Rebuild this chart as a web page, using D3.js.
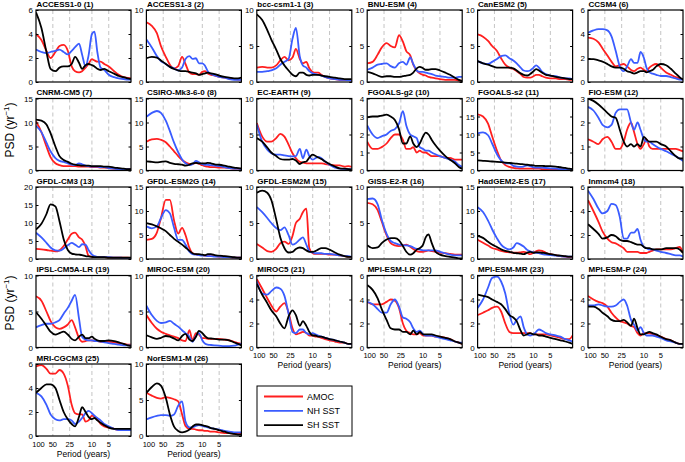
<!DOCTYPE html>
<html><head><meta charset="utf-8">
<script src="https://cdn.jsdelivr.net/npm/d3@7"></script>
<style>body{margin:0;background:#fff}svg{display:block}</style>
</head><body><svg id="c" width="685" height="462"></svg>
<script>
const periods = [100,80,65,55,45,38,32,27,23,20,17,15,13,11.5,10,9,8,7,6,5,4,3.3,2.7,2.3,2];
const gridPeriods = [50,25,10,5];
const xTickVals = [100,50,25,10,5];
const models = ["ACCESS1-0 (1)","ACCESS1-3 (2)","bcc-csm1-1 (3)","BNU-ESM (4)","CanESM2 (5)","CCSM4 (6)",
"CNRM-CM5 (7)","CSIRO-Mk3-6-0 (8)","EC-EARTH (9)","FGOALS-g2 (10)","FGOALS-s2 (11)","FIO-ESM (12)",
"GFDL-CM3 (13)","GFDL-ESM2G (14)","GFDL-ESM2M (15)","GISS-E2-R (16)","HadGEM2-ES (17)","Inmcm4 (18)",
"IPSL-CM5A-LR (19)","MIROC-ESM (20)","MIROC5 (21)","MPI-ESM-LR (22)","MPI-ESM-MR (23)","MPI-ESM-P (24)",
"MRI-CGCM3 (25)","NorESM1-M (26)"];
const yMax  = [6,10,10,10,10,6, 15,15,10,4,20,3, 20,15,10,10,15,6, 10,10,6,6,6,6, 6,10];
const yStep = [2,5,5,5,5,2, 5,5,5,1,5,1, 5,5,5,5,5,2, 5,5,2,2,2,2, 2,5];
const seriesNames = ["AMOC","NH SST","SH SST"];

const amoc = [
[4.0,3.5,2.6,2.0,2.5,3.0,3.1,2.6,1.3,0.9,0.8,0.9,1.2,1.5,1.9,1.8,1.7,1.7,1.5,1.3,0.9,0.6,0.4,0.35,0.3],
[8.3,7.8,6.8,5.0,3.5,2.4,1.9,2.2,3.5,2.5,1.3,1.1,1.1,1.0,1.4,1.5,1.2,1.0,0.9,0.7,0.6,0.5,0.4,0.35,0.3],
[2.0,2.1,2.0,2.0,2.3,3.0,3.5,3.0,3.4,4.6,3.2,2.6,2.8,1.9,1.4,1.3,1.3,1.0,0.7,0.5,0.4,0.3,0.3,0.25,0.2],
[2.6,2.8,3.8,4.8,5.4,5.0,4.8,6.5,5.6,4.3,3.7,2.4,1.6,1.2,1.0,0.9,0.7,0.6,0.5,0.4,0.3,0.3,0.3,0.2,0.2],
[6.6,6.3,5.7,5.0,4.3,3.3,2.4,2.0,1.8,1.5,1.1,0.7,0.6,0.6,0.8,1.0,1.0,0.8,0.6,0.5,0.5,0.4,0.4,0.3,0.3],
[3.7,3.6,3.3,2.8,2.2,1.7,1.3,1.4,1.5,1.3,1.0,0.9,1.1,1.2,1.0,0.9,1.2,1.4,1.5,1.2,0.8,0.6,0.4,0.3,0.2],
[10.2,8.0,5.0,2.8,1.5,1.1,0.9,0.9,0.9,0.9,0.8,0.8,0.8,0.8,0.7,0.7,0.7,0.6,0.6,0.5,0.4,0.4,0.3,0.3,0.3],
[6.0,6.5,6.6,6.4,5.9,5.0,4.0,3.0,2.2,1.7,1.4,1.4,1.6,1.4,1.1,0.9,0.8,0.7,0.7,0.6,0.6,0.5,0.4,0.4,0.3],
[6.6,4.7,4.0,4.0,4.5,5.1,4.7,3.6,2.4,1.7,1.2,1.1,1.0,1.0,1.0,1.0,1.0,1.0,0.9,0.8,0.7,0.7,0.55,0.6,0.5],
[1.6,1.2,1.2,1.3,1.5,1.8,2.0,2.0,1.7,1.2,1.2,1.3,1.0,1.1,1.0,1.0,0.9,0.8,0.8,0.8,0.7,0.7,0.6,0.6,0.6],
[15.6,15.0,13.0,9.5,5.5,2.8,1.5,1.0,0.7,0.6,0.5,0.5,0.5,0.5,0.5,0.5,0.5,0.4,0.4,0.4,0.3,0.3,0.3,0.2,0.2],
[1.3,1.2,1.1,1.3,1.4,1.2,0.9,0.9,1.2,1.7,2.0,1.6,1.1,0.9,1.1,1.3,1.0,0.9,0.9,0.9,0.9,0.9,0.9,0.85,0.8],
[2.8,2.7,2.5,2.3,2.1,2.4,3.6,5.4,7.0,7.3,6.0,5.4,3.5,0.9,0.6,0.5,0.5,0.5,0.5,0.4,0.4,0.4,0.4,0.4,0.3],
[4.0,4.2,5.5,8.5,12.3,12.3,8.0,5.3,6.5,5.0,2.3,1.2,1.0,0.8,0.8,0.7,0.7,0.6,0.6,0.5,0.5,0.4,0.3,0.3,0.3],
[2.1,1.6,1.1,1.0,1.4,2.2,2.4,2.1,3.2,5.0,5.6,6.5,7.0,1.5,0.8,0.7,0.7,0.7,0.7,0.6,0.6,0.5,0.4,0.3,0.3],
[7.8,7.6,6.8,5.2,3.3,2.2,1.9,1.8,1.9,2.0,1.7,1.4,1.1,1.0,1.0,1.1,1.2,1.1,1.0,0.9,0.8,0.7,0.6,0.6,0.6],
[4.0,3.4,2.8,2.3,2.0,1.7,1.5,1.4,1.3,1.3,1.4,1.5,1.3,1.0,1.3,1.6,1.8,1.7,1.3,1.0,0.8,0.6,0.5,0.4,0.4],
[4.9,4.0,3.1,2.3,1.7,1.4,1.3,1.1,0.9,0.6,0.6,0.6,0.6,0.5,0.5,0.5,0.6,0.7,0.8,0.8,0.8,0.8,0.9,1.0,0.5],
[7.1,6.5,5.0,3.7,2.8,2.6,2.8,3.2,3.8,2.8,1.3,0.8,0.9,1.0,1.0,0.9,0.9,0.8,0.8,0.8,0.7,0.6,0.5,0.4,0.4],
[4.5,3.4,2.6,2.2,1.9,1.7,1.5,1.3,1.0,0.9,2.4,1.0,2.0,1.8,1.3,1.3,1.2,1.2,1.2,1.2,1.1,1.0,0.8,0.6,0.5],
[5.7,4.9,4.1,3.5,3.0,3.4,3.7,2.9,1.6,1.1,1.2,1.3,1.2,1.0,1.0,0.9,0.9,0.8,0.7,0.6,0.5,0.4,0.4,0.3,0.3],
[3.8,3.6,3.6,3.6,3.8,4.0,3.9,3.3,2.0,1.4,1.2,1.1,1.1,1.2,1.0,1.0,1.0,1.0,0.9,0.9,0.8,0.7,0.5,0.4,0.3],
[2.7,2.9,3.1,3.3,3.4,3.0,2.0,1.3,1.2,1.2,1.2,1.2,1.2,1.2,1.1,1.1,1.1,1.1,1.1,1.0,0.9,0.8,0.7,0.7,1.0],
[4.3,4.0,3.8,3.7,3.4,2.9,2.5,2.2,2.1,2.0,1.8,1.7,1.2,1.0,1.2,1.2,1.2,1.1,1.0,0.9,0.7,0.6,0.4,0.3,0.3],
[5.8,5.9,5.6,5.2,5.2,5.5,5.2,4.2,2.6,1.9,1.8,1.8,1.2,1.3,1.7,1.6,1.4,1.0,0.8,0.7,0.6,0.5,0.5,0.5,0.6],
[6.0,5.6,5.3,5.2,5.4,5.3,5.1,4.8,3.0,1.4,1.0,1.0,0.9,0.8,0.8,0.7,0.7,0.6,0.6,0.5,0.4,0.4,0.3,0.3,0.3]
];
const nhSST = [
[2.7,2.5,2.4,2.5,2.6,2.7,2.5,2.3,2.6,2.9,3.2,2.3,1.3,2.2,4.0,4.2,2.5,1.2,1.0,0.6,0.4,0.3,0.25,0.2,0.2],
[5.9,4.8,3.6,2.9,2.5,2.1,1.9,1.6,2.0,3.2,3.6,3.2,3.3,2.6,2.6,2.3,1.5,1.1,0.9,0.7,0.6,0.4,0.3,0.3,0.3],
[1.4,1.4,1.5,1.6,1.9,2.4,2.8,3.2,6.0,7.5,3.5,2.3,2.0,1.5,1.2,1.1,1.0,0.9,0.7,0.5,0.4,0.3,0.3,0.25,0.2],
[1.7,2.0,2.4,2.5,2.6,2.2,2.0,2.6,2.8,2.4,3.4,2.5,1.6,1.4,1.4,1.3,1.2,1.1,0.9,0.8,0.7,0.6,0.6,0.7,0.7],
[2.9,2.6,2.5,2.8,3.2,3.6,3.7,3.3,3.0,2.6,2.0,1.6,1.5,1.6,2.0,2.3,2.0,1.4,1.1,0.9,0.8,0.6,0.5,0.5,0.4],
[4.1,4.3,4.4,4.4,4.3,3.8,2.6,1.3,0.9,1.3,1.9,1.6,1.6,2.5,2.0,1.2,0.8,0.7,0.6,0.5,0.5,0.4,0.3,0.2,0.2],
[9.3,8.0,5.8,4.0,2.6,2.0,1.8,1.5,1.2,1.1,1.5,1.3,1.0,0.9,0.8,0.8,0.8,0.7,0.7,0.5,0.4,0.3,0.3,0.3,0.2],
[11.2,12.0,12.4,12.0,10.4,8.2,5.8,3.8,2.3,1.5,1.1,1.3,2.0,1.7,1.3,1.2,1.2,1.1,1.0,0.9,0.7,0.5,0.4,0.4,0.3],
[6.4,4.0,2.9,2.4,2.2,2.2,2.1,2.0,1.95,2.0,3.0,1.7,2.9,2.0,1.5,1.7,1.9,1.7,1.25,0.8,0.4,0.25,0.2,0.2,0.2],
[2.5,2.0,1.8,1.9,2.0,2.2,2.3,2.6,3.3,2.5,2.0,1.9,1.8,1.3,1.2,1.1,1.1,1.0,0.9,0.8,0.7,0.6,0.5,0.3,0.2],
[10.3,10.6,9.8,7.5,4.5,2.8,2.0,2.0,1.3,1.1,1.0,1.1,1.4,1.2,0.9,0.8,0.8,0.8,0.7,0.6,0.5,0.4,0.4,0.3,0.3],
[2.65,2.5,2.2,1.9,1.8,1.9,2.4,2.55,2.55,2.55,2.0,1.7,2.0,1.7,1.3,1.2,1.2,1.1,1.0,0.9,0.8,0.7,0.6,0.5,0.4],
[7.3,6.0,4.5,3.2,2.4,2.3,2.9,3.8,4.5,4.0,3.3,4.1,4.0,2.5,1.2,0.8,0.6,0.5,0.5,0.5,0.4,0.4,0.3,0.3,0.3],
[6.8,6.4,6.8,8.5,10.2,9.5,6.5,4.0,4.0,3.0,1.5,1.0,0.9,0.8,0.7,0.7,0.6,0.6,0.5,0.5,0.4,0.4,0.3,0.3,0.3],
[7.2,6.5,5.7,5.0,4.3,4.0,4.4,3.3,2.0,2.2,2.7,3.0,2.0,1.1,0.9,0.8,0.8,0.8,0.7,0.7,0.6,0.5,0.4,0.4,0.3],
[8.3,8.4,7.6,5.5,3.5,2.5,2.2,2.0,1.9,1.9,1.8,1.6,1.4,1.3,1.2,1.2,1.2,1.2,1.2,1.0,0.8,0.6,0.5,0.5,0.5],
[10.8,9.8,8.0,6.2,4.3,3.0,2.3,2.0,2.4,3.3,3.0,2.6,1.9,1.6,1.4,1.3,1.2,1.0,0.9,0.8,0.7,0.6,0.5,0.5,0.5],
[5.7,5.0,4.2,3.8,4.0,4.6,4.5,3.5,1.7,1.7,2.2,2.2,2.5,1.6,1.0,0.9,0.8,0.8,0.7,0.6,0.5,0.4,0.3,0.3,0.2],
[2.8,3.1,3.3,3.3,3.5,3.8,4.7,5.5,6.5,7.3,4.0,1.5,1.1,1.0,1.0,0.9,0.9,0.8,0.7,0.6,0.5,0.4,0.3,0.3,0.3],
[5.8,4.5,3.7,3.4,3.5,3.7,3.3,2.9,2.4,2.0,1.5,0.8,1.6,2.0,1.0,0.55,0.4,0.35,0.3,0.25,0.2,0.2,0.25,0.4,0.5],
[5.5,4.5,4.4,4.7,5.0,4.9,4.3,2.8,1.3,1.2,1.5,1.5,1.2,1.1,1.2,1.1,1.0,0.9,0.8,0.7,0.6,0.5,0.4,0.3,0.3],
[3.8,3.6,3.2,2.9,2.9,3.6,4.0,3.4,2.5,2.4,2.1,1.6,1.3,1.4,1.1,1.0,1.0,1.0,0.9,0.8,0.7,0.6,0.5,0.4,0.4],
[3.3,4.0,5.0,5.8,5.9,5.5,4.5,2.8,1.9,2.3,2.6,1.7,1.1,1.0,1.1,1.3,1.5,1.4,1.2,1.1,1.0,0.9,0.7,0.6,0.5],
[3.5,3.5,3.6,3.5,3.4,3.4,3.5,3.8,4.0,3.5,2.3,1.9,1.4,1.7,1.2,1.0,1.0,1.0,0.9,0.8,0.6,0.5,0.4,0.3,0.3],
[3.6,3.3,2.6,1.8,1.4,1.3,1.4,1.4,1.3,1.0,1.2,1.5,1.9,2.1,1.9,1.7,1.5,1.3,1.0,0.8,0.6,0.5,0.5,0.5,0.5],
[2.3,2.6,2.8,2.9,2.9,2.8,3.0,4.2,4.8,2.0,1.2,1.2,1.4,1.5,1.4,1.3,1.2,1.1,1.0,0.9,0.7,0.6,0.5,0.5,0.5]
];
const shSST = [
[5.8,4.5,2.5,1.1,0.9,1.2,1.3,1.3,1.5,2.1,1.6,1.1,1.4,1.5,1.4,1.3,1.1,1.0,1.1,0.9,0.7,0.5,0.4,0.3,0.25],
[3.3,3.5,3.4,3.0,2.5,2.1,1.8,1.6,1.5,1.5,1.4,1.3,1.2,1.0,1.1,1.2,1.3,1.2,1.1,0.9,0.7,0.6,0.5,0.5,0.6],
[9.4,8.6,7.2,5.9,4.5,3.2,2.3,1.6,1.0,0.8,1.3,1.3,1.0,0.9,1.0,1.0,1.0,0.9,0.8,0.7,0.6,0.5,0.4,0.4,0.4],
[1.4,1.2,0.9,0.7,0.8,0.8,0.7,0.7,0.8,0.9,1.0,1.3,1.9,2.1,1.9,1.7,1.7,1.8,1.8,1.6,1.3,1.0,0.6,0.3,0.1],
[2.9,2.6,2.4,2.2,2.0,2.0,2.0,2.0,1.9,1.6,1.2,1.0,0.9,1.1,1.5,1.8,1.6,1.3,1.0,0.9,0.7,0.6,0.5,0.4,0.4],
[1.9,1.9,1.8,1.7,1.5,1.3,1.2,1.2,1.1,0.9,0.8,0.7,0.8,0.9,0.9,0.8,0.9,1.0,1.3,1.5,1.4,1.1,0.7,0.4,0.2],
[10.6,10.4,9.6,7.8,5.0,3.0,2.2,1.8,1.4,1.2,1.1,1.0,1.0,1.0,0.9,0.9,0.9,0.9,0.8,0.8,0.6,0.5,0.4,0.3,0.3],
[1.9,1.8,1.7,1.8,1.9,1.6,1.4,1.3,1.2,1.0,1.2,1.5,1.6,1.5,1.5,1.5,1.6,1.5,1.3,1.2,1.0,0.8,0.6,0.5,0.4],
[4.5,4.0,3.2,2.5,2.0,1.6,1.5,1.5,1.6,1.4,0.9,1.15,1.25,1.8,2.2,2.05,1.8,1.6,1.25,0.9,0.55,0.3,0.25,0.2,0.15],
[2.95,3.0,3.0,3.05,3.1,3.0,2.8,2.3,1.5,1.5,1.9,1.5,1.3,1.5,1.9,2.1,2.0,1.7,1.4,1.1,0.8,0.6,0.4,0.2,0.1],
[2.8,2.7,2.6,2.5,2.4,2.3,2.2,2.1,2.0,1.9,1.8,1.7,1.6,1.5,1.4,1.3,1.3,1.3,1.2,1.2,1.1,0.9,0.7,0.5,0.4],
[3.0,2.9,2.75,2.6,2.4,2.25,2.2,1.7,1.2,1.0,1.1,1.0,1.1,1.0,1.4,1.3,1.2,1.2,1.2,1.1,1.0,0.8,0.6,0.5,0.5],
[8.2,9.8,12.5,15.2,14.6,10.5,5.5,2.5,1.5,1.3,1.2,1.1,0.8,0.7,0.6,0.5,0.5,0.5,0.5,0.4,0.4,0.4,0.4,0.4,0.4],
[7.5,7.2,6.8,6.4,5.8,5.0,4.2,3.6,3.0,2.4,1.7,1.2,1.0,1.0,0.9,0.8,1.0,1.0,0.8,0.7,0.6,0.5,0.4,0.3,0.3],
[9.2,9.5,9.2,8.2,5.5,3.0,1.5,0.9,1.0,1.4,1.6,1.5,1.2,1.0,1.0,1.1,1.3,1.5,1.5,1.3,0.9,0.6,0.4,0.3,0.3],
[1.9,1.5,1.6,2.2,2.7,2.9,2.9,2.6,1.8,1.0,0.6,0.8,1.3,1.5,2.0,3.0,3.4,2.2,1.0,0.6,0.4,0.3,0.2,0.1,0.1],
[4.8,4.4,3.6,3.0,2.5,2.0,1.7,1.5,1.3,1.2,1.1,1.0,1.3,1.5,1.3,1.4,1.4,1.3,1.2,1.0,0.8,0.7,0.6,0.5,0.5],
[2.9,2.5,2.1,1.7,1.8,2.0,1.9,1.6,1.5,1.5,1.4,1.3,1.2,1.2,1.0,0.9,0.9,0.8,0.8,0.8,0.9,0.9,0.9,0.8,0.5],
[4.9,4.0,3.0,2.2,1.8,2.0,2.2,1.8,1.2,1.0,1.5,1.8,1.3,1.3,1.5,1.2,1.0,0.9,0.9,1.0,0.9,0.7,0.5,0.3,0.2],
[1.7,1.4,1.2,1.35,1.6,1.5,1.25,1.0,1.6,1.9,1.1,0.9,1.5,2.3,2.0,1.6,1.3,1.25,1.2,1.1,1.1,1.0,0.7,0.5,0.3],
[5.3,4.4,3.7,3.1,2.6,2.0,1.6,2.6,3.1,2.7,1.8,2.2,1.8,1.3,1.0,1.0,0.9,0.9,0.8,0.7,0.6,0.5,0.4,0.3,0.3],
[5.2,4.8,4.1,3.2,2.3,1.6,1.5,1.5,1.3,1.3,1.1,1.4,1.1,1.3,1.1,1.1,1.1,1.1,1.0,0.9,0.8,0.7,0.5,0.4,0.3],
[4.4,4.3,4.2,4.0,3.8,3.6,3.2,2.7,2.5,2.2,1.4,1.0,1.1,1.2,1.1,1.1,1.0,1.0,0.9,0.8,0.7,0.6,0.5,0.4,0.3],
[3.4,3.4,3.2,2.9,2.6,2.3,2.2,2.2,2.3,2.1,1.8,2.4,1.6,1.1,1.1,1.2,1.3,1.2,1.1,0.9,0.7,0.6,0.4,0.3,0.3],
[3.6,4.0,4.3,4.3,4.0,3.0,2.0,1.4,1.0,0.8,1.6,2.4,2.0,1.6,1.4,1.5,1.3,1.1,0.9,0.7,0.6,0.6,0.6,0.6,0.6],
[6.0,6.8,7.3,7.0,5.3,3.0,1.3,0.7,0.5,0.6,0.9,1.3,1.6,1.6,1.5,1.4,1.3,1.1,1.0,0.8,0.6,0.4,0.3,0.2,0.2]
];

const FONT = '"Liberation Sans", Arial, Helvetica, sans-serif';
const colors = ["#ff1f1f", "#3a5cff", "#000000"];
const W = 95, H = 72;
const colLeft = c => 36 + c * 110.4;
const rowTop = r => 10 + r * 88.5;
const svg = d3.select("#c").style("font-family", FONT);

models.forEach((name, i) => {
  const r = Math.floor(i / 6), c = i % 6;
  const x0 = colLeft(c), y0 = rowTop(r);
  const x = d3.scaleLog().domain([100, 2]).range([x0, x0 + W]);
  const y = d3.scaleLinear().domain([0, yMax[i]]).range([y0 + H, y0]);
  const g = svg.append("g");
  g.append("clipPath").attr("id", "clip" + i).append("rect")
    .attr("x", x0).attr("y", y0).attr("width", W).attr("height", H);

  g.selectAll("line.grid").data(gridPeriods).join("line")
    .attr("class", "grid")
    .attr("x1", d => x(d)).attr("x2", d => x(d))
    .attr("y1", y0).attr("y2", y0 + H)
    .attr("stroke", "#b5b5b5").attr("stroke-width", 0.8)
    .attr("stroke-dasharray", "4,3");

  const line = d3.line()
    .x((d, j) => x(periods[j]))
    .y(d => y(d))
    .curve(d3.curveMonotoneX);
  const sets = [amoc[i], nhSST[i], shSST[i]];
  const lg = g.append("g").attr("clip-path", `url(#clip${i})`);
  sets.forEach((vals, k) => {
    lg.append("path").datum(vals)
      .attr("d", line).attr("fill", "none")
      .attr("stroke", colors[k]).attr("stroke-width", 1.8)
      .attr("stroke-linejoin", "round");
  });

  const tv = d3.range(0, yMax[i] + 1e-9, yStep[i]);
  const ya = g.append("g").attr("transform", `translate(${x0},0)`)
    .call(d3.axisLeft(y).tickValues(tv).tickSize(-2.5).tickPadding(3).tickFormat(d3.format("d")));
  ya.select(".domain").remove();
  ya.selectAll("text").attr("font-size", 8).attr("font-family", FONT).attr("fill", "#000");
  ya.selectAll("line").attr("stroke", "#000");
  const yr = g.append("g").attr("transform", `translate(${x0 + W},0)`)
    .call(d3.axisRight(y).tickValues(tv).tickSize(-2.5).tickFormat(""));
  yr.select(".domain").remove();

  g.append("rect").attr("x", x0).attr("y", y0).attr("width", W).attr("height", H)
    .attr("fill", "none").attr("stroke", "#000").attr("stroke-width", 1.2);

  g.append("text").attr("x", x0 + 0.5).attr("y", y0 - 3.5)
    .attr("font-size", 8).attr("font-weight", "bold").text(name);

  if (i >= 20) {
    g.selectAll("text.xt").data(xTickVals).join("text")
      .attr("class", "xt")
      .attr("x", d => x(d) + (d === 100 ? 2.5 : 0)).attr("y", y0 + H + 10.5)
      .attr("text-anchor", "middle").attr("font-size", 7.5)
      .text(d => d);
    g.append("text").attr("x", x0 + W / 2).attr("y", y0 + H + 20.5)
      .attr("text-anchor", "middle").attr("font-size", 8.5)
      .text("Period (years)");
  }
});

[130, 303].forEach(cy => {
  const t = svg.append("text")
    .attr("transform", `translate(14,${cy}) rotate(-90)`)
    .attr("text-anchor", "middle").attr("font-size", 12);
  t.append("tspan").text("PSD (yr");
  t.append("tspan").attr("font-size", 8).attr("dy", -5).text("\u22121");
  t.append("tspan").attr("dy", 5).text(")");
});

const leg = svg.append("g");
leg.append("rect").attr("x", 257).attr("y", 386).attr("width", 95).attr("height", 50)
  .attr("fill", "#fff").attr("stroke", "#000").attr("stroke-width", 1);
seriesNames.forEach((s, k) => {
  const ly = 396.5 + k * 14.3;
  leg.append("line").attr("x1", 264).attr("x2", 303).attr("y1", ly).attr("y2", ly)
    .attr("stroke", colors[k]).attr("stroke-width", 1.8);
  leg.append("text").attr("x", 307).attr("y", ly).attr("dy", "0.35em")
    .attr("font-size", 9).text(s);
});
</script>
</body></html>
